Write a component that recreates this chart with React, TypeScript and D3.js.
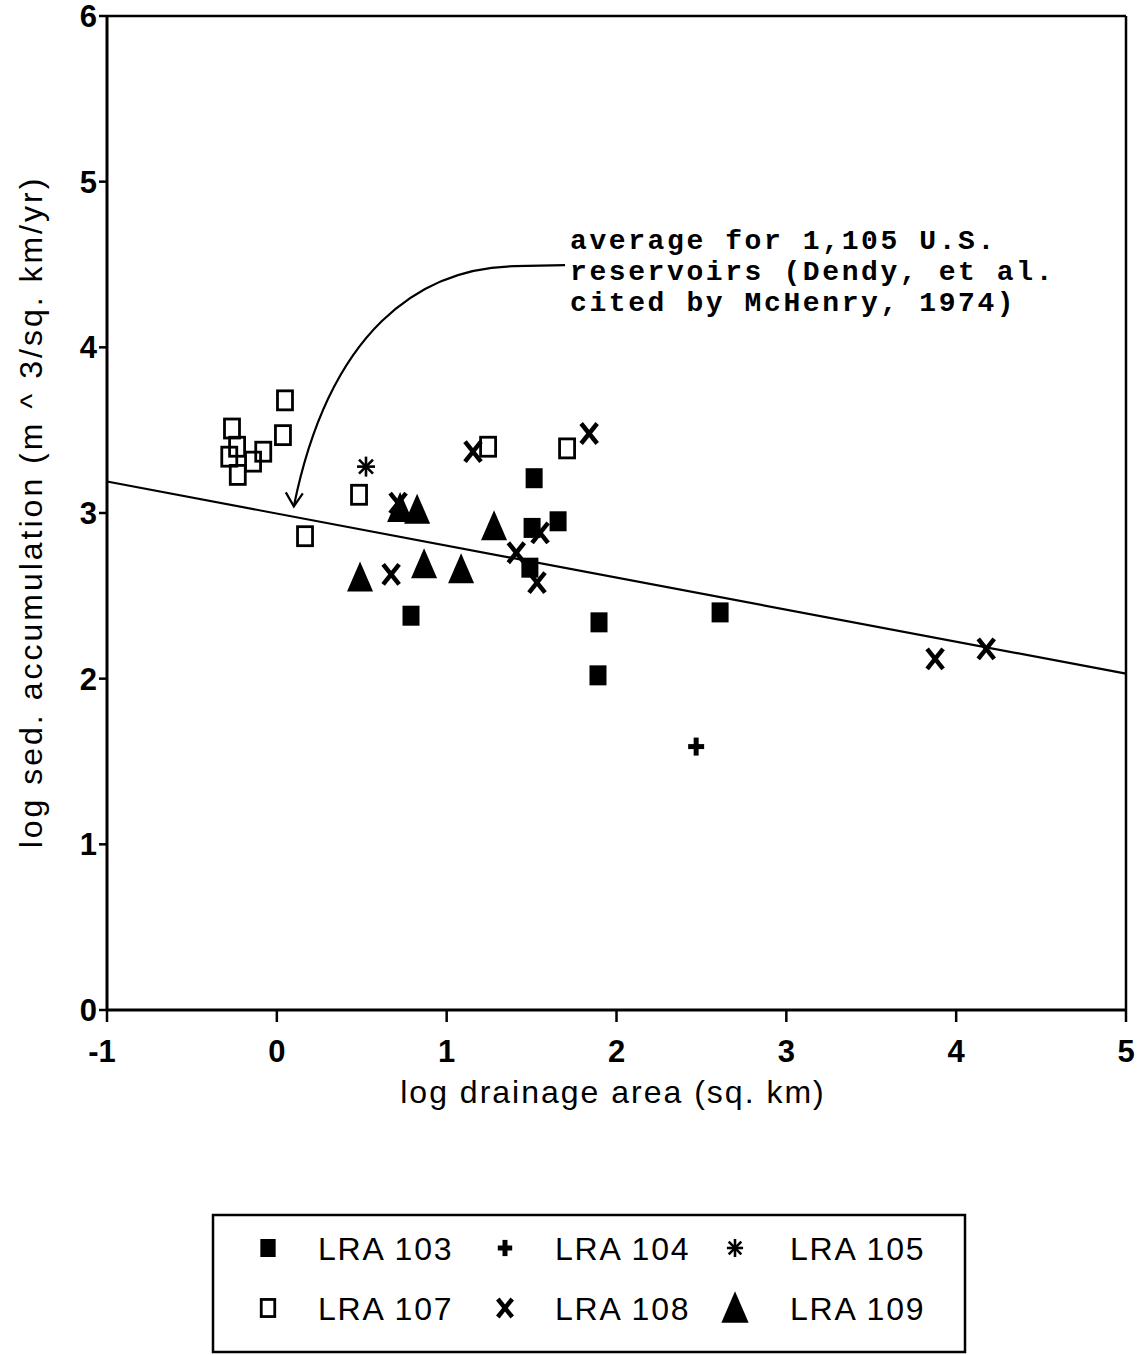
import React from "react";
import * as d3 from "d3";

const W = 1142;
const H = 1355;

// axis ticks
const xTicks = [-1, 0, 1, 2, 3, 4, 5];
const yTicks = [0, 1, 2, 3, 4, 5, 6];

// series data (log drainage area, log sed. accumulation)
const lra103X = [1.515, 1.503, 1.656, 1.49, 0.79, 1.897, 1.891, 2.61];
const lra103Y = [3.21, 2.91, 2.95, 2.67, 2.38, 2.34, 2.02, 2.4];
const lra104X = [2.469];
const lra104Y = [1.59];
const lra105X = [0.525];
const lra105Y = [3.28];
const lra107X = [0.048, 0.036, -0.264, -0.234, -0.28, -0.08, -0.14, -0.23, 0.484, 0.166, 1.244, 1.709];
const lra107Y = [3.68, 3.47, 3.51, 3.4, 3.34, 3.37, 3.31, 3.23, 3.11, 2.86, 3.4, 3.39];
const lra108X = [1.155, 1.839, 0.673, 1.41, 1.55, 1.532, 3.876, 4.177, 0.714];
const lra108Y = [3.37, 3.48, 2.63, 2.76, 2.88, 2.58, 2.12, 2.18, 3.06];
const lra109X = [0.726, 0.826, 1.279, 0.49, 0.867, 1.085];
const lra109Y = [3.03, 3.02, 2.92, 2.61, 2.69, 2.66];

// average line for 1,105 U.S. reservoirs
const avgLineX = [-1, 5];
const avgLineY = [3.19, 2.03];

// annotation
const noteLines = ["average for 1,105 U.S.", "reservoirs (Dendy, et al.", "cited by McHenry, 1974)"];
// arrow: start, end of straight part, two bezier controls, tip (data coords)
const arrowStart: [number, number] = [1.697, 4.496];
const arrowBend: [number, number] = [1.40, 4.49];
const arrowC1: [number, number] = [0.84, 4.48];
const arrowC2: [number, number] = [0.31, 4.10];
const arrowTip: [number, number] = [0.10, 3.04];

const legendLabels = ["LRA 103", "LRA 104", "LRA 105", "LRA 107", "LRA 108", "LRA 109"];
const legendShapes = ["fsq", "plus", "star", "osq", "x", "tri"];

const PL = 107, PR = 1126, PT = 16, PB = 1010;
const xS = d3.scaleLinear().domain([-1, 5]).range([PL, PR]);
const yS = d3.scaleLinear().domain([0, 6]).range([PB, PT]);

const SANS = "'Liberation Sans', Arial, Helvetica, sans-serif";
const MONO = "'Liberation Mono', 'Courier New', monospace";

function Marker({ shape, cx, cy, s = 1 }: { shape: string; cx: number; cy: number; s?: number }) {
  switch (shape) {
    case "fsq":
      return <rect x={cx - 8.5 * s} y={cy - 10 * s} width={17 * s} height={20 * s} fill="#000" />;
    case "osq":
      return (
        <rect x={cx - 7.5 * s} y={cy - 9.5 * s} width={15 * s} height={19 * s} fill="none" stroke="#000" strokeWidth={2.8} />
      );
    case "plus":
      return (
        <g stroke="#000" strokeWidth={5}>
          <line x1={cx - 8 * s} x2={cx + 8 * s} y1={cy} y2={cy} />
          <line x1={cx} x2={cx} y1={cy - 9 * s} y2={cy + 9 * s} />
        </g>
      );
    case "star":
      return (
        <g stroke="#000" strokeWidth={2.6}>
          <line x1={cx} x2={cx} y1={cy - 10 * s} y2={cy + 10 * s} />
          <line x1={cx - 9 * s} x2={cx + 9 * s} y1={cy} y2={cy} />
          <line x1={cx - 7 * s} x2={cx + 7 * s} y1={cy - 7 * s} y2={cy + 7 * s} />
          <line x1={cx - 7 * s} x2={cx + 7 * s} y1={cy + 7 * s} y2={cy - 7 * s} />
        </g>
      );
    case "x":
      return (
        <g stroke="#000" strokeWidth={4.5}>
          <line x1={cx - 8 * s} x2={cx + 8 * s} y1={cy - 10 * s} y2={cy + 10 * s} />
          <line x1={cx - 8 * s} x2={cx + 8 * s} y1={cy + 10 * s} y2={cy - 10 * s} />
        </g>
      );
    case "tri":
      return (
        <path
          d={`M${cx},${cy - 16 * s} L${cx + 13 * s},${cy + 14 * s} L${cx - 13 * s},${cy + 14 * s} Z`}
          fill="#000"
        />
      );
    default:
      return null;
  }
}

function Series({ xs, ys, shape }: { xs: number[]; ys: number[]; shape: string }) {
  return (
    <g>
      {xs.map((x, i) => (
        <Marker key={i} shape={shape} cx={xS(x)} cy={yS(ys[i])} />
      ))}
    </g>
  );
}

export default function App() {
  const avgLine = d3
    .line<number>()
    .x((d) => xS(d))
    .y((_, i) => yS(avgLineY[i]))(avgLineX);

  const p = d3.path();
  p.moveTo(xS(arrowStart[0]), yS(arrowStart[1]));
  p.lineTo(xS(arrowBend[0]), yS(arrowBend[1]));
  p.bezierCurveTo(
    xS(arrowC1[0]), yS(arrowC1[1]),
    xS(arrowC2[0]), yS(arrowC2[1]),
    xS(arrowTip[0]), yS(arrowTip[1])
  );
  const arrowPath = p.toString();

  const tx = xS(arrowTip[0]);
  const ty = yS(arrowTip[1]);

  const legX = [268, 505, 735];
  const legTX = [318, 555, 790];
  const legY = [1248, 1308];

  return (
    <svg
      width={W}
      height={H}
      style={{ position: "absolute", left: 0, top: 0, background: "#fff" }}
      xmlns="http://www.w3.org/2000/svg"
    >
      <rect x={0} y={0} width={W} height={H} fill="#fff" />
      {/* frame */}
      <line x1={PL} x2={PR} y1={PT} y2={PT} stroke="#000" strokeWidth={2.5} />
      <line x1={PR} x2={PR} y1={PT} y2={PB} stroke="#000" strokeWidth={2.5} />
      <line x1={PL} x2={PL} y1={PT} y2={PB} stroke="#000" strokeWidth={3} />
      <line x1={PL} x2={PR} y1={PB} y2={PB} stroke="#000" strokeWidth={3} />

      {/* y ticks */}
      {yTicks.map((t) => (
        <g key={"y" + t}>
          <line x1={PL - 8} x2={PL} y1={yS(t)} y2={yS(t)} stroke="#000" strokeWidth={2.5} />
          <text
            x={PL - 10}
            y={yS(t) + 11}
            textAnchor="end"
            fontFamily={SANS}
            fontSize={31}
            fontWeight="bold"
          >
            {t}
          </text>
        </g>
      ))}
      {/* x ticks */}
      {xTicks.map((t) => (
        <g key={"x" + t}>
          <line x1={xS(t)} x2={xS(t)} y1={PB} y2={PB + 12} stroke="#000" strokeWidth={2.5} />
          <text
            x={xS(t) + (t < 0 ? -5 : 0)}
            y={PB + 52}
            textAnchor="middle"
            fontFamily={SANS}
            fontSize={31}
            fontWeight="bold"
          >
            {t}
          </text>
        </g>
      ))}

      {/* axis titles */}
      <text
        x={613}
        y={1103}
        textAnchor="middle"
        fontFamily={SANS}
        fontSize={32}
        letterSpacing={2}
      >
        log drainage area (sq. km)
      </text>
      <text
        transform={`translate(42, 512) rotate(-90)`}
        textAnchor="middle"
        fontFamily={SANS}
        fontSize={32}
        letterSpacing={3}
      >
        log sed. accumulation (m ^ 3/sq. km/yr)
      </text>

      {/* average line */}
      <path d={avgLine ?? ""} fill="none" stroke="#000" strokeWidth={2.2} />

      {/* annotation */}
      {noteLines.map((l, i) => (
        <text
          key={i}
          x={570}
          y={249 + i * 31}
          fontFamily={MONO}
          fontSize={28}
          fontWeight="bold"
          letterSpacing={2.6}
          xmlSpace="preserve"
        >
          {l}
        </text>
      ))}
      <path d={arrowPath} fill="none" stroke="#000" strokeWidth={2.2} />
      <path
        d={`M${tx - 8},${ty - 14} L${tx},${ty} L${tx + 9},${ty - 13}`}
        fill="none"
        stroke="#000"
        strokeWidth={2.2}
      />

      {/* data */}
      <Series xs={lra107X} ys={lra107Y} shape="osq" />
      <Series xs={lra103X} ys={lra103Y} shape="fsq" />
      <Series xs={lra104X} ys={lra104Y} shape="plus" />
      <Series xs={lra105X} ys={lra105Y} shape="star" />
      <Series xs={lra109X} ys={lra109Y} shape="tri" />
      <Series xs={lra108X} ys={lra108Y} shape="x" />

      {/* legend */}
      <rect x={213} y={1215} width={752} height={137} fill="none" stroke="#000" strokeWidth={2.5} />
      {legendLabels.map((lab, i) => {
        const r = Math.floor(i / 3);
        const c = i % 3;
        return (
          <g key={lab}>
            <Marker shape={legendShapes[i]} cx={legX[c]} cy={legY[r]} s={legendShapes[i] === "tri" ? 1.05 : 0.9} />
            <text x={legTX[c]} y={legY[r] + 12} fontFamily={SANS} fontSize={32} letterSpacing={1.8}>
              {lab}
            </text>
          </g>
        );
      })}
    </svg>
  );
}
